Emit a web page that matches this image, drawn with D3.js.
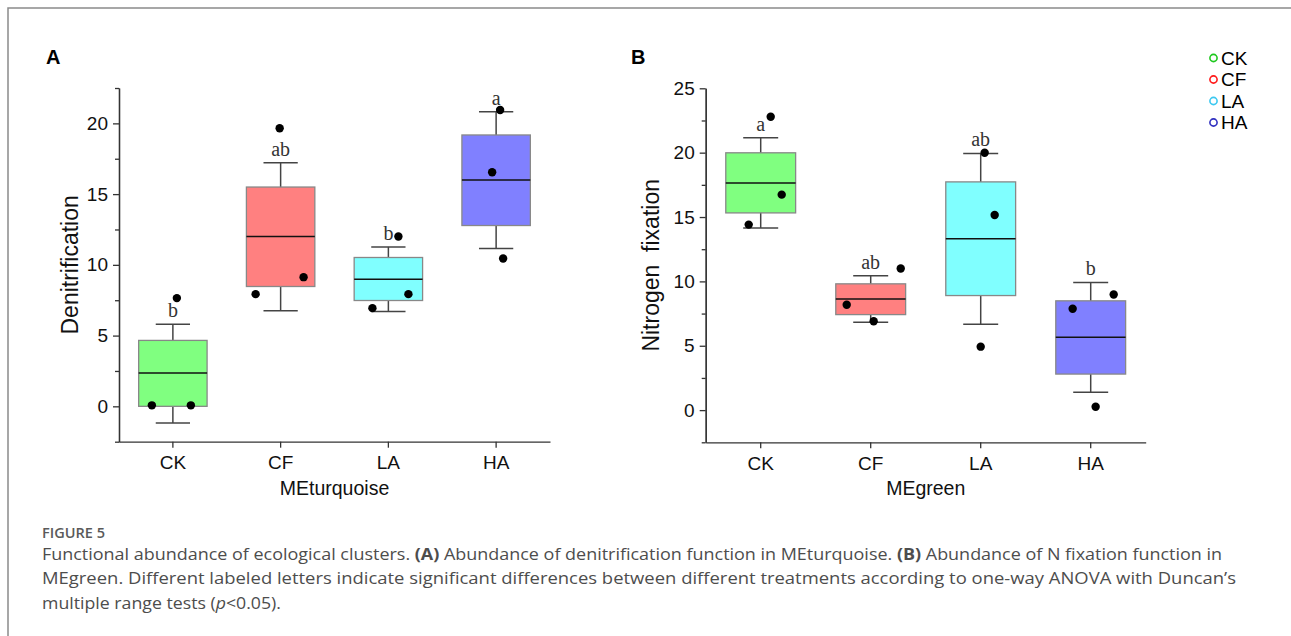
<!DOCTYPE html>
<html>
<head>
<meta charset="utf-8">
<title>Figure 5</title>
<script src="https://d3js.org/d3.v7.min.js"></script>
<style>
    body {
        margin: 0;
        overflow: hidden;
        background: #fff;
    }
    .axis path, .axis line {
        stroke: #333;
        stroke-width: 1.3px;
    }
    .axis text {
        font: 19px "Liberation Sans", Arial, sans-serif;
        fill: #111;
    }
</style>
</head>
<body>
<script>
    // treatments
    const categories = ["CK", "CF", "LA", "HA"];

    // panel A: MEturquoise / Denitrification
    const denitQ1 = [0, 8.47, 7.48, 12.78];
    const denitMedian = [2.35, 12.0, 8.99, 16.0];
    const denitQ3 = [4.66, 15.5, 10.52, 19.18];
    const denitLow = [-1.18, 6.75, 6.71, 11.15];
    const denitHigh = [5.81, 17.22, 11.27, 20.82];
    const denitPoints = [[0.07, 0.07, 7.65], [7.93, 9.13, 19.65], [6.94, 7.93, 12.0], [10.45, 16.54, 20.94]];
    const denitLetters = ["b", "ab", "b", "a"];
    const denitTicks = [0, 5, 10, 15, 20];

    // panel B: MEgreen / Nitrogen fixation
    const nfixQ1 = [15.32, 7.42, 8.9, 2.8];
    const nfixMedian = [17.65, 8.64, 13.32, 5.66];
    const nfixQ3 = [19.99, 9.81, 17.73, 8.49];
    const nfixLow = [14.15, 6.83, 6.67, 1.38];
    const nfixHigh = [21.16, 10.44, 19.94, 9.92];
    const nfixPoints = [[14.41, 16.74, 22.79], [6.9, 8.18, 11.0], [4.93, 15.16, 19.99], [0.26, 7.87, 8.98]];
    const nfixLetters = ["a", "ab", "ab", "b"];
    const nfixTicks = [0, 5, 10, 15, 20, 25];

    const boxColors = ["#80ff80", "#ff8080", "#80ffff", "#8080ff"];
    const legendColors = ["#1ec81e", "#ff1a1a", "#3cc8f0", "#3030c0"];

    // horizontal spread of the dots, as a share of the band
    const jitterA = [[-0.195, 0.167, 0.037], [-0.232, 0.213, -0.009], [-0.148, 0.186, 0.093], [0.065, -0.037, 0.037]];
    const jitterB = [[-0.109, 0.191, 0.091], [0.027, -0.218, 0.273], [0, 0.127, 0.036], [0.045, -0.164, 0.209]];

    const width = 1291;
    const height = 636;

    const svg = d3.select("body")
        .append("svg")
        .attr("width", width)
        .attr("height", height);

    // page frame
    svg.append("path")
        .attr("d", "M8," + height + "V8H" + width)
        .attr("fill", "none")
        .attr("stroke", "#8a8a8a")
        .attr("stroke-width", 1.5);

    function drawPanel(p) {
        const g = svg.append("g").attr("transform", "translate(" + p.left + "," + p.top + ")");

        const x = d3.scaleBand().domain(categories).range([0, p.width]);
        const y = d3.scaleLinear().domain(p.domain).range([p.height, 0]);

        const minor = d3.range(p.domain[0], p.domain[1] + 0.01, 2.5).filter(function(v) { return v % 5 !== 0; });

        g.append("g")
            .attr("class", "axis")
            .call(d3.axisLeft(y).tickValues(minor).tickSize(4).tickSizeOuter(0).tickFormat(""));

        g.append("g")
            .attr("class", "axis")
            .call(d3.axisLeft(y).tickValues(p.ticks).tickSize(6).tickPadding(5).tickSizeOuter(0));

        g.append("g")
            .attr("class", "axis")
            .attr("transform", "translate(0," + p.height + ")")
            .call(d3.axisBottom(x).tickSize(6).tickPadding(8).tickSizeOuter(0));

        const bw = x.bandwidth();
        const boxW = bw * 0.635;
        const capW = bw * 0.318;

        categories.forEach(function(c, i) {
            const cx = x(c) + bw / 2;

            // whiskers
            g.append("line")
                .attr("x1", cx).attr("x2", cx)
                .attr("y1", y(p.low[i])).attr("y2", y(p.high[i]))
                .attr("stroke", "#444").attr("stroke-width", 1.5);
            [p.low[i], p.high[i]].forEach(function(v) {
                g.append("line")
                    .attr("x1", cx - capW / 2).attr("x2", cx + capW / 2)
                    .attr("y1", y(v)).attr("y2", y(v))
                    .attr("stroke", "#444").attr("stroke-width", 1.5);
            });

            g.append("rect")
                .attr("x", cx - boxW / 2)
                .attr("y", y(p.q3[i]))
                .attr("width", boxW)
                .attr("height", y(p.q1[i]) - y(p.q3[i]))
                .attr("fill", boxColors[i])
                .attr("stroke", "#888")
                .attr("stroke-width", 1.3);

            g.append("line")
                .attr("x1", cx - boxW / 2).attr("x2", cx + boxW / 2)
                .attr("y1", y(p.median[i])).attr("y2", y(p.median[i]))
                .attr("stroke", "#111").attr("stroke-width", 1.5);

            p.points[i].forEach(function(v, j) {
                g.append("circle")
                    .attr("cx", cx + p.jitter[i][j] * bw)
                    .attr("cy", y(v))
                    .attr("r", 4.2)
                    .attr("fill", "#000");
            });

            g.append("text")
                .attr("x", cx)
                .attr("y", y(p.high[i]) - 7)
                .attr("text-anchor", "middle")
                .style("font", "20px 'Liberation Serif', 'Times New Roman', serif")
                .attr("fill", "#333")
                .text(p.letters[i]);
        });

        // axis titles
        g.append("text")
            .attr("x", p.width / 2)
            .attr("y", p.height + 53)
            .attr("text-anchor", "middle")
            .style("font", "19.5px 'Liberation Sans', Arial, sans-serif")
            .attr("fill", "#111")
            .text(p.xTitle);

        g.append("text")
            .attr("transform", "translate(" + (-p.yTitleOffset) + "," + (p.height / 2) + ") rotate(-90)")
            .attr("text-anchor", "middle")
            .style("font", "23px 'Liberation Sans', Arial, sans-serif")
            .style("white-space", "pre")
            .attr("fill", "#111")
            .text(p.yTitle);

        svg.append("text")
            .attr("x", p.tagX)
            .attr("y", 64)
            .style("font", "bold 20px 'Liberation Sans', Arial, sans-serif")
            .attr("fill", "#000")
            .text(p.tag);
    }

    drawPanel({
        left: 119, top: 88, width: 431, height: 353.7,
        domain: [-2.5, 22.5], ticks: denitTicks,
        q1: denitQ1, median: denitMedian, q3: denitQ3, low: denitLow, high: denitHigh,
        points: denitPoints, jitter: jitterA, letters: denitLetters,
        xTitle: "MEturquoise", yTitle: "Denitrification", yTitleOffset: 41,
        tag: "A", tagX: 46
    });

    drawPanel({
        left: 705.7, top: 88.3, width: 440, height: 354,
        domain: [-2.5, 25], ticks: nfixTicks,
        q1: nfixQ1, median: nfixMedian, q3: nfixQ3, low: nfixLow, high: nfixHigh,
        points: nfixPoints, jitter: jitterB, letters: nfixLetters,
        xTitle: "MEgreen", yTitle: "Nitrogen  fixation", yTitleOffset: 47,
        tag: "B", tagX: 631
    });

    // legend
    const legend = svg.append("g");
    categories.forEach(function(c, i) {
        legend.append("circle")
            .attr("cx", 1213.5)
            .attr("cy", 58 + i * 21.5)
            .attr("r", 3.6)
            .attr("fill", "#fff")
            .attr("stroke", legendColors[i])
            .attr("stroke-width", 1.6);
        legend.append("text")
            .attr("x", 1221)
            .attr("y", 64.5 + i * 21.5)
            .style("font", "19px 'Liberation Sans', Arial, sans-serif")
            .attr("fill", "#000")
            .text(c);
    });

    // caption
    const capFont = "'Open Sans', 'Noto Sans', sans-serif";
    svg.append("text")
        .attr("x", 42)
        .attr("y", 538.3)
        .attr("textLength", 63)
        .attr("lengthAdjust", "spacingAndGlyphs")
        .style("font-family", capFont)
        .style("font-size", "14.5px")
        .style("font-weight", 600)
        .attr("fill", "#5a5a5a")
        .text("FIGURE 5");

    const capLines = [
        [["Functional abundance of ecological clusters. ", 400], ["(A)", 700], [" Abundance of denitrification function in MEturquoise. ", 400], ["(B)", 700], [" Abundance of N fixation function in", 400]],
        [["MEgreen. Different labeled letters indicate significant differences between different treatments according to one-way ANOVA with Duncan\u2019s", 400]],
        [["multiple range tests (", 400], ["p", 400, "italic"], ["<0.05).", 400]]
    ];
    const capWidths = [1180, 1194, 239];
    const capBase = [559.5, 584, 608.5];

    capLines.forEach(function(parts, i) {
        const t = svg.append("text")
            .attr("x", 42)
            .attr("y", capBase[i])
            .attr("textLength", capWidths[i])
            .attr("lengthAdjust", "spacingAndGlyphs")
            .style("font-family", capFont)
            .style("font-size", "16.5px")
            .attr("fill", "#4d4d4d")
            .style("white-space", "pre");
        parts.forEach(function(pt) {
            t.append("tspan")
                .style("font-weight", pt[1])
                .style("font-style", pt[2] || "normal")
                .text(pt[0]);
        });
    });
</script>
</body>
</html>
